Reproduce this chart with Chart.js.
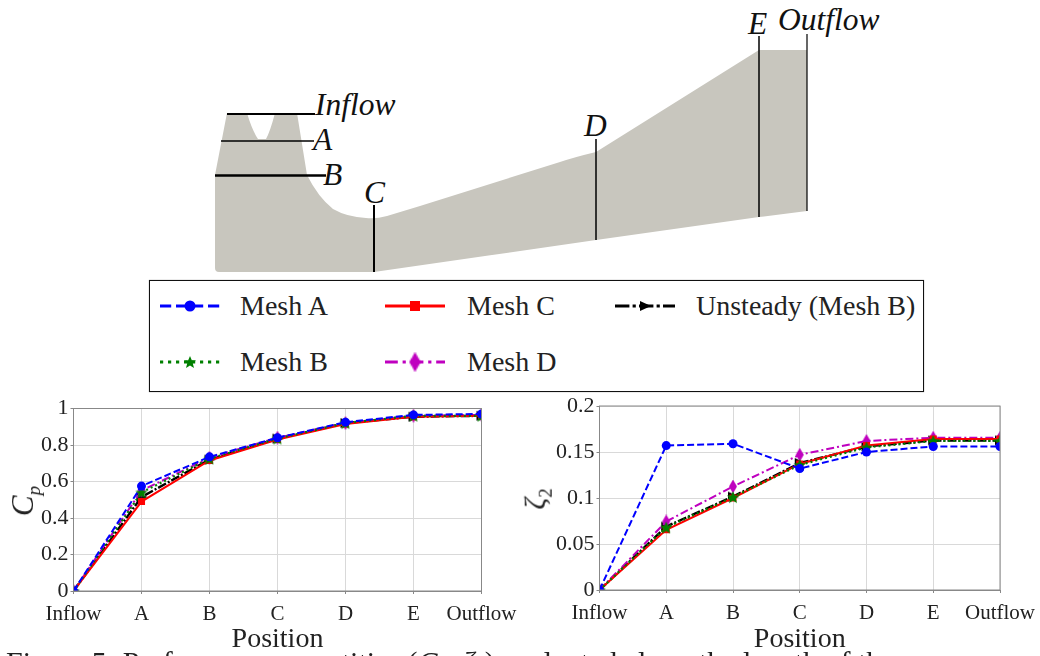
<!DOCTYPE html>
<html>
<head>
<meta charset="utf-8">
<title>Performance quantities</title>
<script src="https://cdn.jsdelivr.net/npm/chart.js@4"></script>
<style>
    html, body { margin: 0; padding: 0; background: #fff; }
    body { width: 1040px; height: 656px; position: relative; overflow: hidden; font-family: "Liberation Serif", serif; color: #222; }
    .abs { position: absolute; }
    #legendBox { left: 149px; top: 280px; width: 773px; height: 110px; border: 1px solid #111; box-shadow: 0 0 1px #888; }
    .legendLabel { position: absolute; font-size: 28px; line-height: 32px; white-space: nowrap; }
    .mathLabel { position: absolute; font-style: italic; white-space: nowrap; }
    #caption { left: 6px; top: 645px; font-size: 30px; line-height: 34px; white-space: nowrap; }
</style>
</head>
<body>

<svg class="abs" style="left:0;top:0" width="1040" height="280" font-family="Liberation Serif" font-style="italic" font-size="31.5" fill="#111">
    <path fill="#c8c6be" d="M227 113 L215 175 L215 268 Q215 272 219 272 L374 272 L596 240 L759 217 L807 211 L807 50 L759 50 L596 152 Q575 157 560 162 L420 206 L387 216 Q376 219 366 218 Q347 217 333 209 Q318 197 307 175 L297 113 L275 113 Q270 132 266 139 L258 139 Q252 130 247 113 Z"/>
    <g stroke="#000" fill="none">
        <line x1="227" y1="114" x2="315" y2="114" stroke-width="2"/>
        <line x1="221" y1="141" x2="314" y2="141" stroke-width="1.5"/>
        <line x1="215" y1="175.5" x2="326" y2="175.5" stroke-width="2.5"/>
        <line x1="374" y1="205" x2="374" y2="272" stroke-width="2"/>
        <line x1="596" y1="139" x2="596" y2="240" stroke-width="1.5"/>
        <line x1="759" y1="36" x2="759" y2="217" stroke-width="1.5"/>
        <line x1="807" y1="34" x2="807" y2="211" stroke-width="1.2"/>
    </g>
    <text x="315" y="115">Inflow</text>
    <text x="313" y="150">A</text>
    <text x="323" y="185">B</text>
    <text x="364" y="203">C</text>
    <text x="584" y="136">D</text>
    <text x="748" y="34">E</text>
    <text x="778" y="30">Outflow</text>
</svg>

<div id="legendBox" class="abs"></div>

<canvas id="cpChart" class="abs" style="left:0;top:380px"></canvas>
<canvas id="lossChart" class="abs" style="left:525px;top:380px"></canvas>

<div class="mathLabel" style="left:10px;top:481px;font-size:31px;transform:rotate(-90deg);transform-origin:center">C<sub style="font-size:19px">p</sub></div>
<div class="mathLabel" style="left:527px;top:480px;font-size:29px;transform:rotate(-90deg);transform-origin:center">ζ<sub style="font-size:19px;font-style:normal">2</sub></div>

<div id="caption" class="abs">Figure 5: Performance quantities (<i>C<sub style="font-size:20px">p</sub></i>, <i>ζ</i><sub style="font-size:20px">2</sub>) evaluated along the length of the compressor passage.</div>

<script>
const positions = ['Inflow', 'A', 'B', 'C', 'D', 'E', 'Outflow'];
const cpTicks = [0, 0.2, 0.4, 0.6, 0.8, 1];
const lossTicks = [0, 0.05, 0.1, 0.15, 0.2];

const cpMeshA = [0, 0.575, 0.735, 0.84, 0.925, 0.965, 0.97];
const cpMeshB = [0, 0.54, 0.725, 0.835, 0.92, 0.96, 0.96];
const cpMeshC = [0, 0.49, 0.715, 0.83, 0.915, 0.955, 0.96];
const cpMeshD = [0, 0.55, 0.73, 0.84, 0.92, 0.96, 0.965];
const cpUnsteady = [0, 0.515, 0.72, 0.835, 0.92, 0.955, 0.96];

const lossMeshA = [0, 0.157, 0.159, 0.132, 0.15, 0.156, 0.156];
const lossMeshB = [0, 0.068, 0.101, 0.136, 0.155, 0.162, 0.162];
const lossMeshC = [0, 0.0655, 0.1, 0.137, 0.157, 0.164, 0.164];
const lossMeshD = [0, 0.0745, 0.1125, 0.147, 0.162, 0.1655, 0.1655];
const lossUnsteady = [0, 0.069, 0.1015, 0.138, 0.156, 0.1625, 0.1625];

const serif = '"Liberation Serif", serif';

// pointStyle canvases for the shapes Chart.js has no filled version of
function makeMarker(color, points) {
    const c = document.createElement('canvas');
    c.width = 14;
    c.height = 14;
    const g = c.getContext('2d');
    g.fillStyle = color;
    g.beginPath();
    points.forEach((p, i) => i ? g.lineTo(p[0], p[1]) : g.moveTo(p[0], p[1]));
    g.closePath();
    g.fill();
    return c;
}

const starMarker = makeMarker('#008000', [[7, 1], [8.8, 5.2], [13, 5.6], [9.8, 8.6], [11, 13], [7, 10.6], [3, 13], [4.2, 8.6], [1, 5.6], [5.2, 5.2]]);
const diamondMarker = makeMarker('#bf00bf', [[7, 0], [11, 7], [7, 14], [3, 7]]);
const triangleMarker = makeMarker('#000000', [[2, 2], [13, 7], [2, 12]]);

const styles = {
    meshA: { label: 'Mesh A', borderColor: '#0000ff', backgroundColor: '#0000ff', borderDash: [7, 3], pointStyle: 'circle', pointRadius: 4.5, borderWidth: 2 },
    meshB: { label: 'Mesh B', borderColor: '#008000', backgroundColor: '#008000', borderDash: [2, 3], pointStyle: starMarker, pointRadius: 4, borderWidth: 2.2, legendSize: 14 },
    meshC: { label: 'Mesh C', borderColor: '#ff0000', backgroundColor: '#ff0000', borderDash: [], pointStyle: 'rect', pointRadius: 5, borderWidth: 2 },
    meshD: { label: 'Mesh D', borderColor: '#bf00bf', backgroundColor: '#bf00bf', borderDash: [8, 3, 2, 3], pointStyle: diamondMarker, pointRadius: 4, borderWidth: 2, legendSize: 20 },
    unsteady: { label: 'Unsteady (Mesh B)', borderColor: '#000000', backgroundColor: '#000000', borderDash: [9, 2, 2, 2], pointStyle: triangleMarker, pointRadius: 4, borderWidth: 2.4, legendSize: 14 }
};

function series(style, data) {
    return Object.assign({}, style, { data: data, tension: 0, fill: false, clip: 0, pointBorderWidth: 0, pointHoverRadius: 0 });
}

function tickText(value) {
    return String(Number(value.toFixed(2)));
}

function renderPerformanceChart(id, cfg) {
    const canvas = document.getElementById(id);
    canvas.width = cfg.width;
    canvas.height = 276;
    canvas.style.width = cfg.width + 'px';
    canvas.style.height = '276px';
    new Chart(canvas.getContext('2d'), {
        type: 'line',
        data: { labels: positions, datasets: cfg.datasets },
        options: {
            responsive: false,
            animation: false,
            layout: { padding: { top: cfg.top, right: cfg.right, left: 0, bottom: 0 } },
            plugins: { legend: { display: false }, tooltip: { enabled: false } },
            scales: {
                x: {
                    type: 'category',
                    offset: false,
                    afterFit: scale => { scale.height = cfg.xHeight; },
                    grid: { color: '#d9d9d9', tickColor: '#888', tickLength: 3, drawOnChartArea: true },
                    border: { color: '#888' },
                    ticks: { color: '#222', font: { family: serif, size: 21 }, autoSkip: false, maxRotation: 0, padding: 8 },
                    title: { display: true, text: 'Position', color: '#222', font: { family: serif, size: 28 }, padding: { top: -4, bottom: 0 } }
                },
                y: {
                    min: 0,
                    max: cfg.max,
                    afterFit: scale => { scale.width = cfg.yWidth; },
                    afterBuildTicks: scale => { scale.ticks = cfg.ticks.map(v => ({ value: v })); },
                    grid: { color: '#d9d9d9', tickColor: '#888', tickLength: 3 },
                    border: { color: '#888' },
                    ticks: { color: '#222', font: { family: serif, size: 22 }, padding: 2, callback: tickText }
                }
            }
        },
        plugins: [{
            id: 'frame',
            afterDraw(chart) {
                const a = chart.chartArea, g = chart.ctx;
                g.save();
                g.strokeStyle = '#888';
                g.lineWidth = 1;
                g.strokeRect(a.left, a.top, a.right - a.left, a.bottom - a.top);
                g.restore();
            }
        }]
    });
}

renderPerformanceChart('cpChart', {
    width: 525, yWidth: 73.5, right: 43.5, top: 28.5, xHeight: 65, max: 1, ticks: cpTicks,
    datasets: [series(styles.meshA, cpMeshA), series(styles.meshB, cpMeshB), series(styles.meshC, cpMeshC), series(styles.meshD, cpMeshD), series(styles.unsteady, cpUnsteady)]
});
renderPerformanceChart('lossChart', {
    width: 535, yWidth: 74.5, right: 60, top: 26, xHeight: 66, max: 0.2, ticks: lossTicks,
    datasets: [series(styles.meshA, lossMeshA), series(styles.meshB, lossMeshB), series(styles.meshC, lossMeshC), series(styles.meshD, lossMeshD), series(styles.unsteady, lossUnsteady)]
});

// legend sits on its own above the two plots, same styles as the series
const legendSlots = [
    { key: 'meshA', x: 160, y: 306, textX: 240 },
    { key: 'meshB', x: 160, y: 362, textX: 240 },
    { key: 'meshC', x: 385, y: 306, textX: 467 },
    { key: 'meshD', x: 385, y: 362, textX: 467 },
    { key: 'unsteady', x: 615, y: 306, textX: 696 }
];

function drawLegend() {
    legendSlots.forEach(slot => {
        const st = styles[slot.key];
        const c = document.createElement('canvas');
        c.width = 60;
        c.height = 24;
        c.className = 'abs';
        c.style.left = slot.x + 'px';
        c.style.top = (slot.y - 12) + 'px';
        const g = c.getContext('2d');
        g.strokeStyle = st.borderColor;
        g.lineWidth = 3;
        g.setLineDash(st.borderDash.map(d => d * 1.6));
        g.beginPath();
        g.moveTo(0, 12);
        g.lineTo(60, 12);
        g.stroke();
        g.setLineDash([]);
        g.fillStyle = st.backgroundColor;
        if (st.pointStyle === 'circle') {
            g.beginPath();
            g.arc(30, 12, 5.5, 0, Math.PI * 2);
            g.fill();
        } else if (st.pointStyle === 'rect') {
            g.fillRect(25, 7, 10, 10);
        } else {
            const s = st.legendSize;
            g.drawImage(st.pointStyle, 30 - s / 2, 12 - s / 2, s, s);
        }
        document.body.appendChild(c);

        const t = document.createElement('div');
        t.className = 'legendLabel';
        t.textContent = st.label;
        t.style.left = slot.textX + 'px';
        t.style.top = (slot.y - 16) + 'px';
        document.body.appendChild(t);
    });
}

drawLegend();
</script>
</body>
</html>
